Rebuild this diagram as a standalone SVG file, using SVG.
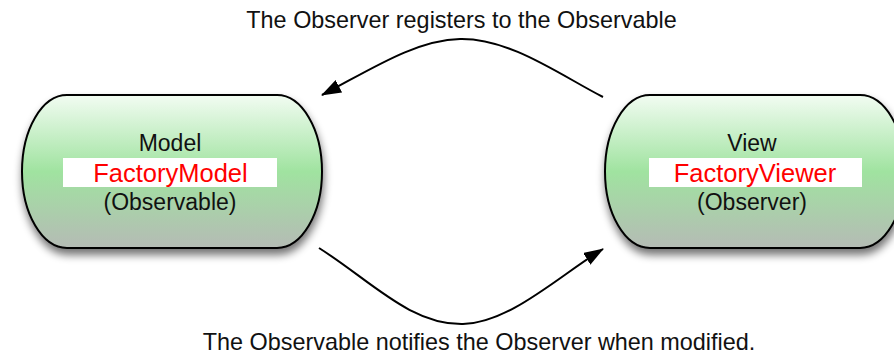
<svg xmlns="http://www.w3.org/2000/svg" width="894" height="355" viewBox="0 0 894 355">
<defs>
<linearGradient id="g" x1="0" y1="0" x2="0" y2="1">
<stop offset="0" stop-color="#f2fcf2"/>
<stop offset="0.5" stop-color="#a0e3a0"/>
<stop offset="1" stop-color="#b5bbb5"/>
</linearGradient>
<filter id="sh" x="-10%" y="-10%" width="120%" height="130%">
<feGaussianBlur in="SourceAlpha" stdDeviation="4"/>
<feOffset dx="1" dy="6" result="b"/>
<feComponentTransfer><feFuncA type="linear" slope="0.55"/></feComponentTransfer>
<feMerge><feMergeNode/><feMergeNode in="SourceGraphic"/></feMerge>
</filter>
<marker id="ah" viewBox="0 0 20 14" refX="19" refY="7" markerWidth="20" markerHeight="14" markerUnits="userSpaceOnUse" orient="auto">
<path d="M0,0 L20,7 L0,14 z" fill="#000"/>
</marker>
</defs>
<style>
.node{fill:url(#g);stroke:#000;stroke-width:2;filter:url(#sh)}
.t{font-family:"Liberation Sans",Arial,sans-serif;font-size:23px;fill:#111;text-anchor:middle}
.r{font-family:"Liberation Sans",Arial,sans-serif;font-size:25.5px;fill:#ff0000;text-anchor:middle}
.wb{fill:#fff}
.c{fill:none;stroke:#000;stroke-width:2;marker-end:url(#ah)}
.lab{font-family:"Liberation Sans",Arial,sans-serif;font-size:23.4px;fill:#111;text-anchor:middle}
</style>
<rect width="894" height="355" fill="#fff"/>
<g id="model">
<rect class="node" x="22" y="95" width="300" height="153" rx="45" ry="76.5"/>
<text class="t" x="170" y="151">Model</text>
<rect class="wb" x="63" y="158" width="214" height="29"/>
<text class="r" x="170.5" y="182">FactoryModel</text>
<text class="t" x="170" y="210">(Observable)</text>
</g>
<g id="view">
<rect class="node" x="605" y="95" width="300" height="153" rx="45" ry="76.5"/>
<text class="t" x="752" y="151">View</text>
<rect class="wb" x="649" y="158" width="213" height="29"/>
<text class="r" x="755" y="182">FactoryViewer</text>
<text class="t" x="752" y="210">(Observer)</text>
</g>
<g id="connectors">
<path class="c" d="M603,97 C560,75 510,38 460,39 C415,40 370,70 322,95"/>
<path class="c" d="M319,248 C370,280 410,325 463,324 C510,323 560,275 603,249"/>
</g>
<g id="labels">
<text class="lab" x="461.5" y="28">The Observer registers to the Observable</text>
<text class="lab" x="479" y="350">The Observable notifies the Observer when modified.</text>
</g>
</svg>
